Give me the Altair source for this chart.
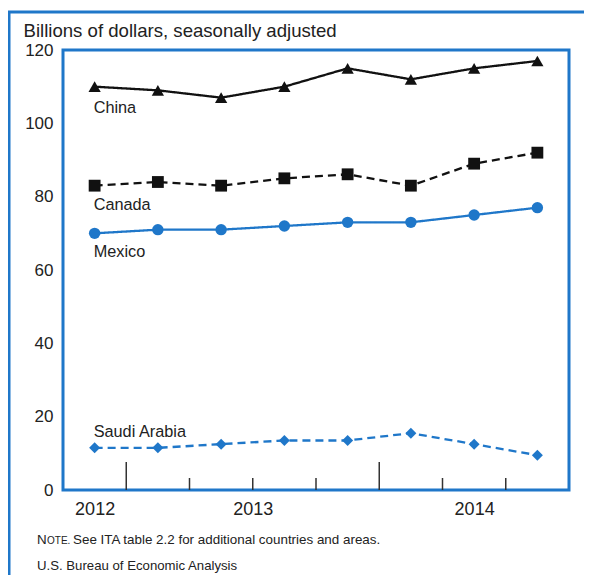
import altair as alt
import pandas as pd

# ---- data ----
quarters = ["2012 Q4", "2013 Q1", "2013 Q2", "2013 Q3", "2013 Q4", "2014 Q1", "2014 Q2", "2014 Q3"]
china = [110, 109, 107, 110, 115, 112, 115, 117]
canada = [83, 84, 83, 85, 86.1, 83, 89, 92]
mexico = [70, 71, 71, 72, 73, 73, 75, 77]
saudi = [11.5, 11.5, 12.5, 13.5, 13.5, 15.5, 12.5, 9.5]
countries = ["China", "Canada", "Mexico", "Saudi Arabia"]
y_ticks = [0, 20, 40, 60, 80, 100, 120]
y_title = "Billions of dollars, seasonally adjusted"
note_cap = "N"
note_small = "OTE."
note_text = "See ITA table 2.2 for additional countries and areas."
source_text = "U.S. Bureau of Economic Analysis"

BLUE = "#1f77c9"
FONT = "Liberation Sans"
W, H = 506, 440

series = {"China": china, "Canada": canada, "Mexico": mexico, "Saudi Arabia": saudi}
rows = []
for c in countries:
    for i, (q, v) in enumerate(zip(quarters, series[c])):
        rows.append({"country": c, "quarter": q, "idx": i, "value": v})
df = pd.DataFrame(rows)

# year labels: centred on the quarters of each year
years = []
for q in quarters:
    y = q.split()[0]
    if y not in years:
        years.append(y)
year_pos = {y: sum(i for i, q in enumerate(quarters) if q.startswith(y)) /
            sum(1 for q in quarters if q.startswith(y)) for y in years}
label_expr = " : ".join(f"datum.value == {p} ? '{y}'" for y, p in year_pos.items()) + " : ''"

# boundaries between quarters (tall at start of a year)
ticks = pd.DataFrame([{"b": i - 0.5, "tall": quarters[i].endswith("Q1")} for i in range(1, len(quarters))])

xscale = alt.Scale(domain=[-0.5, len(quarters) - 0.5], nice=False, zero=False)
yscale = alt.Scale(domain=[0, 120], nice=False)

x_enc = alt.X("idx:Q", scale=xscale, axis=alt.Axis(
    values=list(year_pos.values()), labelExpr=label_expr, domain=False, ticks=False, tickSize=0,
    grid=False, labelFontSize=18, labelFont=FONT, labelColor="#222", labelPadding=10, title=None))
y_enc = alt.Y("value:Q", scale=yscale, axis=alt.Axis(
    values=y_ticks, domain=False, ticks=False, tickSize=0, grid=False, labelFontSize=17,
    labelFont=FONT, labelColor="#222", labelPadding=10, title=y_title, titleAngle=0,
    titleAlign="left", titleBaseline="alphabetic", titleX=-40, titleY=-13.5, titleFontSize=18.6,
    titleFont=FONT, titleFontWeight="normal", titleColor="#222"))

color = alt.Color("country:N", scale=alt.Scale(domain=countries, range=["#111", "#111", BLUE, BLUE]), legend=None)
dash = alt.StrokeDash("country:N", scale=alt.Scale(domain=countries, range=[[1, 0], [8, 5], [1, 0], [8, 5]]), legend=None)
shape = alt.Shape("country:N", scale=alt.Scale(domain=countries, range=["triangle-up", "square", "circle", "diamond"]), legend=None)
size = alt.Size("country:N", scale=alt.Scale(domain=countries, range=[150, 120, 120, 100]), legend=None)

base = alt.Chart(df)
lines = base.mark_line(strokeWidth=2.3).encode(x=x_enc, y=y_enc, color=color, strokeDash=dash, detail="country:N")
points = base.mark_point(filled=True, opacity=1).encode(x="idx:Q", y="value:Q", color=color, shape=shape, size=size)

label_dy = {"China": 21, "Canada": 19, "Mexico": 19, "Saudi Arabia": -16}
labels = []
for c in countries:
    labels.append(
        base.transform_filter(f"datum.country == '{c}' && datum.idx == 0")
        .mark_text(align="left", baseline="middle", dx=-1, dy=label_dy[c], fontSize=16.3, font=FONT, color="#222")
        .encode(x="idx:Q", y="value:Q", text="country:N")
    )

tick_tall = alt.Chart(ticks).transform_filter("datum.tall").mark_rule(color="#333", strokeWidth=1.5).encode(
    x="b:Q", y=alt.value(H), y2=alt.value(H - 28))
tick_short = alt.Chart(ticks).transform_filter("!datum.tall").mark_rule(color="#333", strokeWidth=1.5).encode(
    x="b:Q", y=alt.value(H), y2=alt.value(H - 12))

one = pd.DataFrame({"k": [0]})
outer = alt.Chart(one).mark_rect(fill="transparent", stroke=BLUE, strokeWidth=3).encode(
    x=alt.value(-54), x2=alt.value(W + 40), y=alt.value(-38), y2=alt.value(H + 120))

txt = dict(font=FONT, color="#222", align="left", baseline="alphabetic")
note1 = alt.Chart(one).mark_text(fontSize=13.4, **txt).encode(x=alt.value(-26), y=alt.value(494), text=alt.value(note_cap))
note2 = alt.Chart(one).mark_text(fontSize=10, **txt).encode(x=alt.value(-16), y=alt.value(494), text=alt.value(note_small))
note3 = alt.Chart(one).mark_text(fontSize=13.4, **txt).encode(x=alt.value(10), y=alt.value(494), text=alt.value(note_text))
src = alt.Chart(one).mark_text(fontSize=13.2, **txt).encode(x=alt.value(-26), y=alt.value(520), text=alt.value(source_text))

chart = alt.layer(lines, tick_tall, tick_short, points, *labels, outer, note1, note2, note3, src).properties(
    width=W, height=H, autosize=alt.AutoSizeParams(type="none"),
    padding={"left": 55, "top": 42, "right": 15, "bottom": 85},
    background="white",
).configure_view(stroke=BLUE, strokeWidth=3)

chart.save("out.html", embed_options={"renderer": "svg", "actions": False})
